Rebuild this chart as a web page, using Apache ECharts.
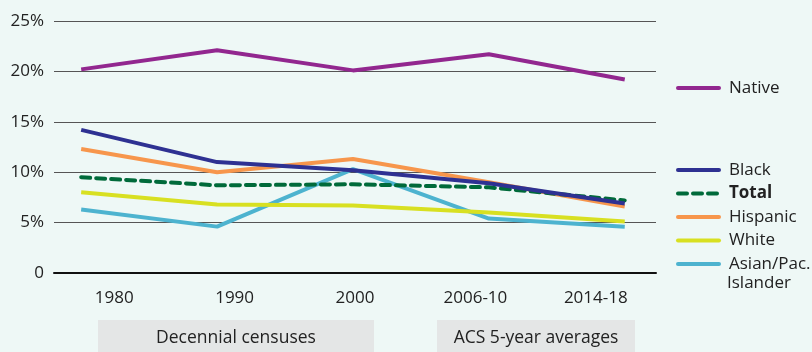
<!DOCTYPE html>
<html>
<head>
<meta charset="utf-8">
<script src="https://cdn.jsdelivr.net/npm/echarts@6/dist/echarts.min.js"></script>
<style>
  html, body { margin: 0; padding: 0; background: #eef8f6; }
  #chart { width: 812px; height: 352px; }
</style>
</head>
<body>
<div id="chart"></div>
<script>
// periods shown on the x axis
const periods = ['1980', '1990', '2000', '2006-10', '2014-18'];
const yTicks = [0, 5, 10, 15, 20, 25];

// percent values
const native = [20.2, 22.1, 20.1, 21.7, 19.2];
const black = [14.2, 11.0, 10.2, 8.9, 6.9];
const total = [9.5, 8.7, 8.8, 8.5, 7.2];
const hispanic = [12.3, 10.0, 11.3, 9.0, 6.6];
const white = [8.0, 6.8, 6.7, 6.0, 5.1];
const asian = [6.3, 4.6, 10.3, 5.4, 4.6];

const FONT = '"Open Sans", "Noto Sans", sans-serif';
const TXT = '#222';

function pts (arr) {
    return arr.map((v, i) => [i, v]);
}

function line (name, data, color, dashed) {
    return {
        name: name,
        type: 'line',
        xAxisIndex: 1,
        data: pts(data),
        symbol: 'none',
        silent: true,
        animation: false,
        lineStyle: {
            color: color,
            width: 4,
            type: dashed ? [9, 6] : 'solid',
            cap: dashed ? 'round' : 'butt'
        },
        itemStyle: { color: color }
    };
}

const chart = echarts.init(document.getElementById('chart'));
const legendText = { fontFamily: FONT, fontSize: 17, color: TXT, lineHeight: 18, padding: [0, 0, 0, 5] };
const legendBase = {
    orient: 'vertical',
    left: 676,
    padding: 0,
    itemWidth: 41,
    itemHeight: 4,
    itemGap: 5.5,
    selectedMode: false,
    itemStyle: { opacity: 0 },
    lineStyle: { width: 4, cap: 'round' },
    textStyle: legendText
};

chart.setOption({
    backgroundColor: '#eef8f6',
    animation: false,
    grid: { left: 54, right: 156, top: 21, bottom: 79 },
    xAxis: [
        {
            type: 'category',
            data: periods,
            boundaryGap: true,
            axisLine: { show: true, lineStyle: { color: '#111', width: 2 } },
            axisTick: { show: false },
            axisLabel: { margin: 17, fontFamily: FONT, fontSize: 17, color: TXT }
        },
        {
            type: 'value',
            min: -0.2,
            max: 4.23,
            show: false
        }
    ],
    yAxis: {
        type: 'value',
        min: yTicks[0],
        max: yTicks[yTicks.length - 1],
        interval: 5,
        axisLine: { show: false },
        axisTick: { show: false },
        splitLine: { lineStyle: { color: '#555', width: 1 } },
        axisLabel: {
            margin: 10,
            fontFamily: FONT,
            fontSize: 17,
            color: TXT,
            formatter: v => v === 0 ? '0' : v + '%'
        }
    },
    legend: [
        Object.assign({}, legendBase, {
            top: 79,
            data: ['Native']
        }),
        Object.assign({}, legendBase, {
            top: 161,
            formatter: n => n === 'Asian/Pac. Islander' ? 'Asian/Pac.' : n,
            data: [
                'Black',
                { name: 'Total', textStyle: { fontWeight: 'bold' } },
                'Hispanic',
                'White',
                'Asian/Pac. Islander'
            ]
        })
    ],
    graphic: [
        { type: 'text', left: 727, top: 275, style: { text: 'Islander', font: '17px ' + FONT, fill: TXT } },
        { type: 'rect', shape: { x: 98, y: 320, width: 276, height: 40 }, style: { fill: '#e4e6e6' } },
        { type: 'text', x: 236, y: 338, style: { text: 'Decennial censuses', font: '17.5px ' + FONT, fill: TXT, align: 'center', verticalAlign: 'middle' } },
        { type: 'rect', shape: { x: 437, y: 320, width: 198, height: 40 }, style: { fill: '#e4e6e6' } },
        { type: 'text', x: 536, y: 338, style: { text: 'ACS 5-year averages', font: '17.5px ' + FONT, fill: TXT, align: 'center', verticalAlign: 'middle' } }
    ],
    series: [
        line('Asian/Pac. Islander', asian, '#4db3cf'),
        line('White', white, '#d8e021'),
        line('Hispanic', hispanic, '#f7964c'),
        line('Total', total, '#006a3a', true),
        line('Black', black, '#2e3192'),
        line('Native', native, '#92278f')
    ]
});
</script>
</body>
</html>
